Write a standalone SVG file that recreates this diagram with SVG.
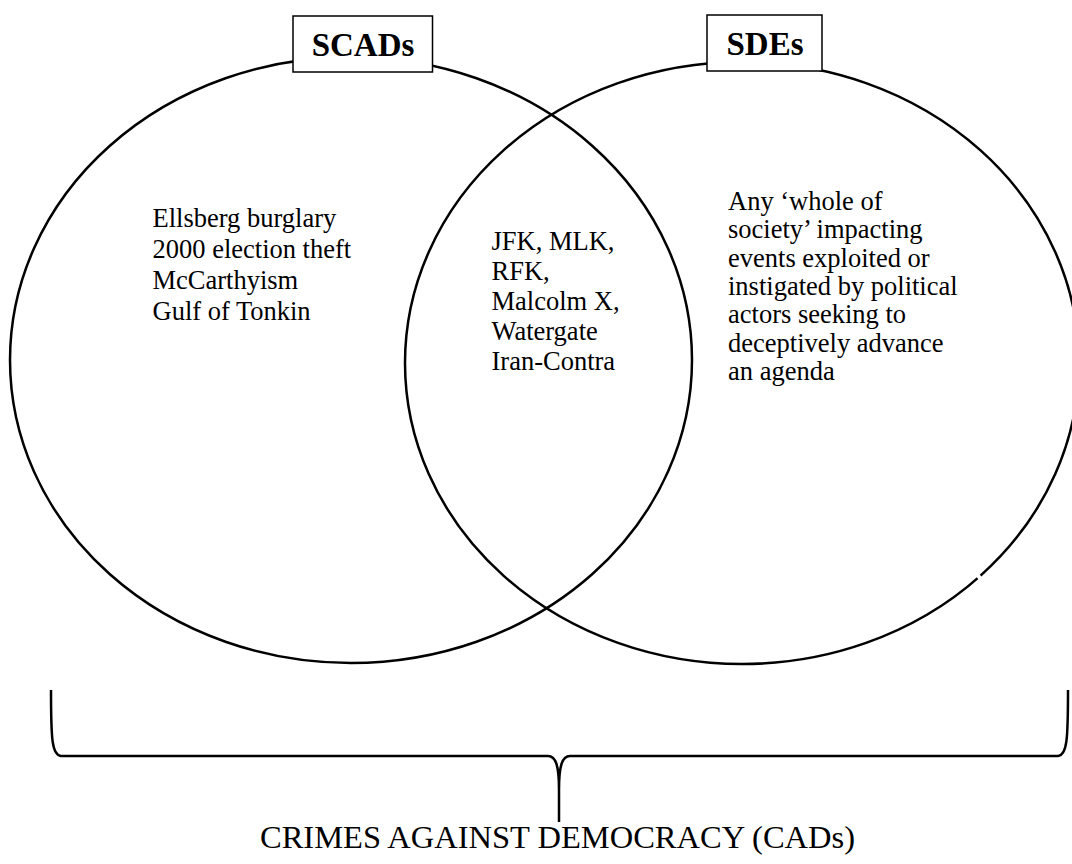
<svg xmlns="http://www.w3.org/2000/svg" width="1072" height="864" viewBox="0 0 1072 864">
  <style>
    .ring { fill: none; stroke: #000; stroke-width: 2.5; }
    .box { fill: #fff; stroke: #000; stroke-width: 1.5; }
    .title { font-family: "Liberation Serif", "Times New Roman", serif; font-weight: bold; font-size: 33px; fill: #000; text-anchor: middle; }
    .body { font-family: "Liberation Serif", "Times New Roman", serif; font-size: 26.5px; fill: #000; }
    .caption { font-family: "Liberation Serif", "Times New Roman", serif; font-size: 32.5px; fill: #000; text-anchor: middle; }
    .brace { fill: none; stroke: #000; stroke-width: 2.5; }
  </style>
  <rect width="1072" height="864" fill="#fff"/>

  <g id="scads">
    <ellipse class="ring" cx="351" cy="360" rx="341" ry="303"/>
  </g>
  <g id="sdes">
    <ellipse class="ring" cx="742" cy="363" rx="337" ry="301"/>
    <rect x="978" y="574" width="4" height="8" fill="#fff" transform="rotate(-40 980 578)"/>
  </g>

  <g id="scads-label">
    <rect class="box" x="293" y="16" width="139.5" height="56"/>
    <text class="title" x="363" y="56">SCADs</text>
  </g>
  <g id="sdes-label">
    <rect class="box" x="707" y="15" width="115" height="56"/>
    <text class="title" x="765" y="55">SDEs</text>
  </g>

  <g id="scads-only">
    <text class="body" x="152.5" y="227">Ellsberg burglary</text>
    <text class="body" x="152.5" y="258">2000 election theft</text>
    <text class="body" x="152.5" y="289">McCarthyism</text>
    <text class="body" x="152.5" y="320">Gulf of Tonkin</text>
  </g>

  <g id="overlap">
    <text class="body" x="491.5" y="250">JFK, MLK,</text>
    <text class="body" x="491.5" y="280">RFK,</text>
    <text class="body" x="491.5" y="310">Malcolm X,</text>
    <text class="body" x="491.5" y="340">Watergate</text>
    <text class="body" x="491.5" y="370">Iran-Contra</text>
  </g>

  <g id="sdes-only">
    <text class="body" x="728" y="210">Any ‘whole of</text>
    <text class="body" x="728" y="238.3">society’ impacting</text>
    <text class="body" x="728" y="266.6">events exploited or</text>
    <text class="body" x="728" y="295">instigated by political</text>
    <text class="body" x="728" y="323.3">actors seeking to</text>
    <text class="body" x="728" y="351.6">deceptively advance</text>
    <text class="body" x="728" y="380">an agenda</text>
  </g>

  <g id="connectors">
    <path class="brace" d="M 51 690 C 51 740 52 755 61 756 L 548 756 C 556 756 559 766 559 790 L 559 822 M 559 790 C 559 766 562 756 570 756 L 1058 756 C 1067 755 1068 740 1068 690"/>
  </g>

  <g id="cads">
    <text class="caption" x="557.5" y="848">CRIMES AGAINST DEMOCRACY (CADs)</text>
  </g>
</svg>
